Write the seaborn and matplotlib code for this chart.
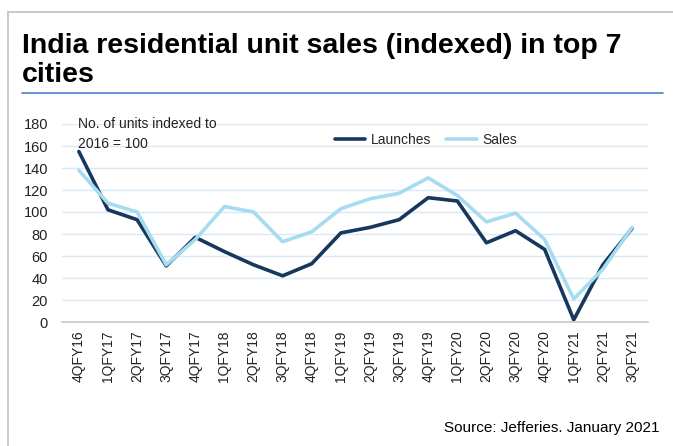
import matplotlib
matplotlib.use("Agg")
import matplotlib.pyplot as plt
import seaborn as sns
import pandas as pd
from matplotlib.lines import Line2D

quarters = ["4QFY16", "1QFY17", "2QFY17", "3QFY17", "4QFY17", "1QFY18", "2QFY18",
            "3QFY18", "4QFY18", "1QFY19", "2QFY19", "3QFY19", "4QFY19", "1QFY20",
            "2QFY20", "3QFY20", "4QFY20", "1QFY21", "2QFY21", "3QFY21"]
launches = [155, 102, 93, 51, 77, 64, 52, 42, 53, 81, 86, 93, 113, 110, 72, 83, 66, 2, 52, 85]
sales = [138, 108, 100, 52, 75, 105, 100, 73, 82, 103, 112, 117, 131, 115, 91, 99, 75, 21, 48, 86]
series_names = ["Launches", "Sales"]
yticks = [0, 20, 40, 60, 80, 100, 120, 140, 160, 180]

df = pd.DataFrame({
    "idx": list(range(len(quarters))) * 2,
    "value": launches + sales,
    "series": [series_names[0]] * len(quarters) + [series_names[1]] * len(quarters),
})

sns.set_style("white")
plt.rcParams["font.family"] = ["Liberation Sans", "DejaVu Sans"]

W, H = 673, 446
fig = plt.figure(figsize=(W / 100, H / 100), dpi=100)

def fx(px):
    return px / W

def fy(py):
    return 1 - py / H

# outer frame
fig.add_artist(Line2D([fx(8), fx(673)], [fy(12), fy(12)], color="#c0c0c0", lw=1.2))
fig.add_artist(Line2D([fx(8), fx(8)], [fy(12), fy(446)], color="#c0c0c0", lw=1.2))
# title underline
fig.add_artist(Line2D([fx(22), fx(663)], [fy(93), fy(93)], color="#4a7fcf", lw=1.2))

fig.text(fx(22), fy(53), "India residential unit sales (indexed) in top 7",
         fontsize=20.5, fontweight="bold", color="black", va="baseline", ha="left")
fig.text(fx(22), fy(82), "cities",
         fontsize=20.5, fontweight="bold", color="black", va="baseline", ha="left")

ax = fig.add_axes([fx(62), fy(322), fx(648) - fx(62), fy(124) - fy(322)])
palette = {"Launches": "#17375e", "Sales": "#a6dcf0"}
sns.lineplot(data=df, x="idx", y="value", hue="series", palette=palette,
             hue_order=series_names, linewidth=2.6, ax=ax, legend=False)

ax.set_ylim(0, 180)
ax.set_xlim(-0.58, len(quarters) - 1 + 0.55)
ax.set_yticks(yticks)
ax.set_yticklabels([str(v) for v in yticks], fontsize=10.5, color="#222222")
ax.set_xticks(range(len(quarters)))
ax.set_xticklabels(quarters, rotation=90, fontsize=10, color="#222222")
ax.tick_params(axis="both", length=0, pad=6)
ax.tick_params(axis="y", pad=10)
ax.grid(axis="y", color="#dbe9f7", lw=1)
ax.set_axisbelow(True)
for s in ["top", "right", "left"]:
    ax.spines[s].set_visible(False)
ax.spines["bottom"].set_color("#c8c8c8")
ax.spines["bottom"].set_linewidth(1.2)
ax.set_xlabel("")
ax.set_ylabel("")

ax.text(fx(78), fy(124), "No. of units indexed to", transform=fig.transFigure,
        fontsize=10, color="#222222", va="center", ha="left")
ax.text(fx(78), fy(144), "2016 = 100", transform=fig.transFigure,
        fontsize=10, color="#222222", va="center", ha="left")

handles = [Line2D([0], [0], color=palette[n], lw=2.6) for n in series_names]
leg = ax.legend(handles, series_names, loc="center left",
                bbox_to_anchor=(fx(322), fy(140)), bbox_transform=fig.transFigure,
                ncol=2, frameon=False, fontsize=10, handlelength=2.2,
                handletextpad=0.4, columnspacing=1.1)

fig.text(fx(660), fy(428), "Source: Jefferies. January 2021", fontsize=11,
         color="black", ha="right", va="center")

fig.savefig("out.png", dpi=100)
